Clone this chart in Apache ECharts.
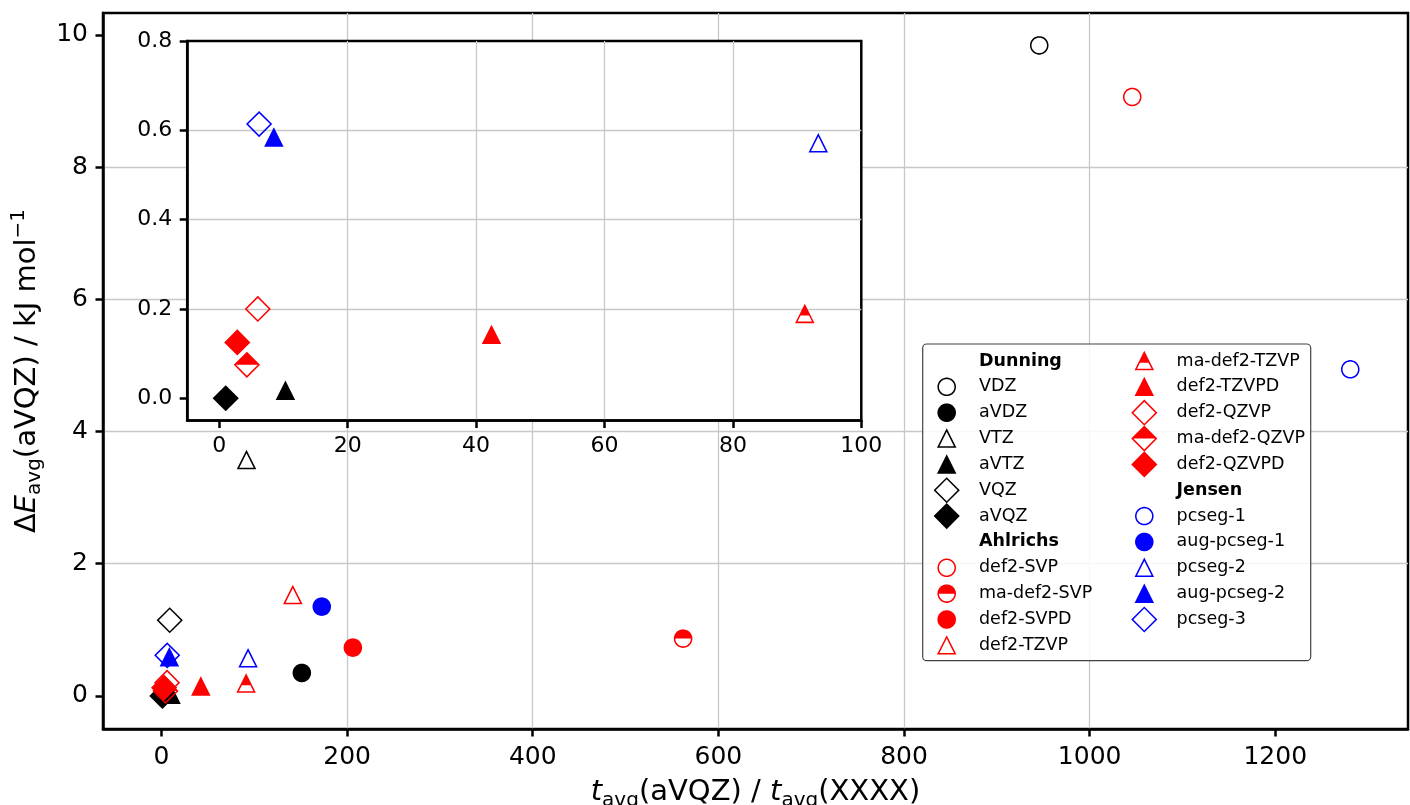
<!DOCTYPE html>
<html>
<head>
<meta charset="utf-8">
<script src="https://cdn.jsdelivr.net/npm/echarts@6/dist/echarts.min.js"></script>
<style>
  html, body { margin: 0; padding: 0; background: #ffffff; }
  #chart { width: 1410px; height: 805px; }
</style>
</head>
<body>
<div id="chart"></div>
<script>
// ---- basis-set families and their members ----
const families = ['Dunning', 'Ahlrichs', 'Jensen'];
const familyColors = ['#000000', '#ff0000', '#0000ff'];

const dunningSets    = ['VDZ', 'aVDZ', 'VTZ', 'aVTZ', 'VQZ', 'aVQZ'];
const dunningSpeedup = [945.7, 151.2, 91.6, 10.3, 8.9, 1.0];
const dunningError   = [9.84, 0.348, 3.57, 0.017, 1.145, 0.0];
const dunningShapes  = ['circle', 'circle', 'triangle', 'triangle', 'diamond', 'diamond'];
const dunningFills   = ['open', 'full', 'open', 'full', 'open', 'full'];

const ahlrichsSets    = ['def2-SVP', 'ma-def2-SVP', 'def2-SVPD', 'def2-TZVP', 'ma-def2-TZVP',
                         'def2-TZVPD', 'def2-QZVP', 'ma-def2-QZVP', 'def2-QZVPD'];
const ahlrichsSpeedup = [1045.9, 562.0, 206.2, 141.5, 91.2, 42.4, 6.0, 4.3, 2.8];
const ahlrichsError   = [9.06, 0.867, 0.731, 1.528, 0.189, 0.142, 0.200, 0.075, 0.125];
const ahlrichsShapes  = ['circle', 'circle', 'circle', 'triangle', 'triangle', 'triangle',
                         'diamond', 'diamond', 'diamond'];
const ahlrichsFills   = ['open', 'top', 'full', 'open', 'top', 'full', 'open', 'top', 'full'];

const jensenSets    = ['pcseg-1', 'aug-pcseg-1', 'pcseg-2', 'aug-pcseg-2', 'pcseg-3'];
const jensenSpeedup = [1280.8, 172.7, 93.3, 8.5, 6.2];
const jensenError   = [4.94, 1.351, 0.571, 0.584, 0.614];
const jensenShapes  = ['circle', 'circle', 'triangle', 'triangle', 'diamond'];
const jensenFills   = ['open', 'full', 'open', 'full', 'open'];

// ---- axis ticks ----
const mainXTicks  = [0, 200, 400, 600, 800, 1000, 1200];
const mainYTicks  = [0, 2, 4, 6, 8, 10];
const insetXTicks = [0, 20, 40, 60, 80, 100];
const insetYTicks = [0, 0.2, 0.4, 0.6, 0.8];

const familyData = [
  { sets: dunningSets,  x: dunningSpeedup,  y: dunningError,  shapes: dunningShapes,  fills: dunningFills },
  { sets: ahlrichsSets, x: ahlrichsSpeedup, y: ahlrichsError, shapes: ahlrichsShapes, fills: ahlrichsFills },
  { sets: jensenSets,   x: jensenSpeedup,   y: jensenError,   shapes: jensenShapes,   fills: jensenFills }
];

// ---- marker outlines built as filled paths (so legend icons match) ----
const FONT = 'DejaVu Sans';
const EDGE = 0.18;      // outline width, in marker units
const FRAME = 1.56;     // half-size of the common symbol box, in marker units
const UNIT = 8.5;       // pixels per marker unit
const SYMBOL_SIZE = 2 * FRAME * UNIT;

function circlePts(r) {
  const pts = [];
  for (let k = 0; k < 72; k++) {
    const a = -Math.PI / 2 + k * 2 * Math.PI / 72;
    pts.push([r * Math.cos(a), r * Math.sin(a)]);
  }
  return pts;
}
function edgeNormal(a, b) {
  const dx = b[0] - a[0], dy = b[1] - a[1], l = Math.hypot(dx, dy);
  return [dy / l, -dx / l];
}
function offsetPoly(poly, d) {
  const n = poly.length, out = [];
  for (let i = 0; i < n; i++) {
    const p0 = poly[(i - 1 + n) % n], p1 = poly[i], p2 = poly[(i + 1) % n];
    const n1 = edgeNormal(p0, p1), n2 = edgeNormal(p1, p2);
    const k = d / (1 + n1[0] * n2[0] + n1[1] * n2[1]);
    out.push([p1[0] + (n1[0] + n2[0]) * k, p1[1] + (n1[1] + n2[1]) * k]);
  }
  return out;
}
function keepBelow(poly, s) {
  const out = [], n = poly.length;
  for (let i = 0; i < n; i++) {
    const a = poly[i], b = poly[(i + 1) % n];
    const ia = a[1] >= s, ib = b[1] >= s;
    if (ia) out.push(a);
    if (ia !== ib) {
      const t = (s - a[1]) / (b[1] - a[1]);
      out.push([a[0] + t * (b[0] - a[0]), s]);
    }
  }
  return out;
}
function ringStr(pts) {
  return 'M' + pts.map(p => p[0].toFixed(4) + ' ' + p[1].toFixed(4)).join(' L') + ' Z';
}
function markerPath(shape, fill) {
  let outer, inner, split;
  if (shape === 'circle') {
    outer = circlePts(1 + EDGE / 2);
    inner = circlePts(1 - EDGE / 2);
    split = 0;
  } else {
    const S = Math.SQRT2;
    const base = shape === 'triangle'
      ? [[0, -1], [1, 1], [-1, 1]]
      : [[0, -S], [S, 0], [0, S], [-S, 0]];
    outer = offsetPoly(base, EDGE / 2);
    inner = offsetPoly(base, -EDGE / 2);
    split = shape === 'triangle' ? 0.2 : 0;
  }
  let d = ringStr(outer);
  if (fill !== 'full') {
    const hole = fill === 'open' ? inner : keepBelow(inner, split);
    d += ' ' + ringStr(hole.slice().reverse());
  }
  const F = FRAME;
  d += ' M' + (-F) + ' ' + (-F) + ' L' + (-F) + ' ' + (-F) + ' Z M' + F + ' ' + F + ' L' + F + ' ' + F + ' Z';
  return 'path://' + d;
}

// ---- series ----
const series = [];
function addSeries(xIdx, yIdx, z) {
  familyData.forEach((fam, fi) => {
    fam.sets.forEach((name, i) => {
      series.push({
        type: 'scatter',
        name: name,
        xAxisIndex: xIdx,
        yAxisIndex: yIdx,
        data: [[fam.x[i], fam.y[i]]],
        symbol: markerPath(fam.shapes[i], fam.fills[i]),
        symbolSize: SYMBOL_SIZE,
        itemStyle: { color: familyColors[fi], opacity: 1 },
        emphasis: { disabled: true },
        silent: true,
        clip: true,
        z: z
      });
    });
  });
}
addSeries(0, 0, 2);
addSeries(1, 1, 6);
// family headings used as legend titles
families.forEach(f => series.push({ type: 'scatter', name: f, data: [], xAxisIndex: 0, yAxisIndex: 0 }));

// ---- legend, two columns ----
const legendEntries = [];
families.forEach((f, fi) => {
  legendEntries.push({ name: f, icon: 'none', textStyle: { fontWeight: 'bold' } });
  familyData[fi].sets.forEach(s => legendEntries.push({ name: s }));
});
const legendCol1 = legendEntries.slice(0, 12);
const legendCol2 = legendEntries.slice(12);

const ROW = 25.85;
const ITEM_W = 54.6;
function legendColumn(data, centerX) {
  return {
    orient: 'vertical',
    left: centerX - ITEM_W / 2,
    top: 361 - SYMBOL_SIZE / 2,
    padding: 0,
    itemWidth: ITEM_W,
    itemHeight: SYMBOL_SIZE,
    itemGap: ROW - SYMBOL_SIZE,
    selectedMode: false,
    textStyle: { fontSize: 17.5, fontFamily: FONT, color: '#000', lineHeight: SYMBOL_SIZE },
    data: data,
    z: 5
  };
}

const gridLine = { show: true, showMinLine: false, showMaxLine: false,
                   lineStyle: { color: '#c8c8c8', width: 1.3 } };

function valueAxis(opts) {
  return Object.assign({
    type: 'value',
    axisLine: { show: true, onZero: false, lineStyle: { color: '#000', width: 2.5 } },
    axisTick: { show: true, inside: false, length: 7.5,
                lineStyle: { color: '#000', width: 2.5 }, customValues: opts.ticks },
    axisLabel: { customValues: opts.ticks, fontSize: opts.fontSize, color: '#000',
                 fontFamily: FONT, margin: opts.margin,
                 formatter: opts.fmt || (v => String(v)) },
    splitLine: gridLine
  }, opts.extra);
}

const titleRich = {
  n: { fontSize: 29, fontFamily: FONT, lineHeight: 36, color: '#000' },
  i: { fontSize: 29, fontFamily: FONT, fontStyle: 'italic', lineHeight: 36, color: '#000' },
  s: { fontSize: 20, fontFamily: FONT, lineHeight: 18, verticalAlign: 'bottom', color: '#000' },
  p: { fontSize: 20, fontFamily: FONT, lineHeight: 16, verticalAlign: 'top', color: '#000' }
};

const option = {
  animation: false,
  backgroundColor: '#ffffff',
  grid: [
    { left: 103, top: 13, right: 2, bottom: 76, show: true, borderColor: '#000',
      borderWidth: 2.5, backgroundColor: 'transparent', z: 0,
      containLabel: false, outerBoundsMode: 'none' },
    { left: 187.2, top: 41, width: 674.1, height: 379.6, show: true, borderColor: '#000',
      borderWidth: 2.5, backgroundColor: '#ffffff', z: 3,
      containLabel: false, outerBoundsMode: 'none' }
  ],
  xAxis: [
    valueAxis({ ticks: mainXTicks, fontSize: 25, margin: 16, extra: {
      gridIndex: 0, position: 'bottom', min: -63, max: 1343, minInterval: 200, maxInterval: 200,
      name: '{i|t}{s|avg}(aVQZ) / {i|t}{s|avg}(XXXX)',
      nameLocation: 'middle', nameGap: 39,
      nameTextStyle: { fontSize: 29, fontFamily: FONT, color: '#000', lineHeight: 36, rich: titleRich }
    } }),
    valueAxis({ ticks: insetXTicks, fontSize: 22, margin: 15, extra: {
      gridIndex: 1, position: 'bottom', min: -5, max: 100, minInterval: 20, maxInterval: 20, z: 4
    } })
  ],
  yAxis: [
    valueAxis({ ticks: mainYTicks, fontSize: 25, margin: 15, extra: {
      gridIndex: 0, position: 'left', min: -0.5, max: 10.33, minInterval: 2, maxInterval: 2,
      name: '{n|Δ}{i|E}{s|avg}(aVQZ) / kJ mol{p|−1}',
      nameLocation: 'middle', nameGap: 49,
      nameTextStyle: { fontSize: 29, fontFamily: FONT, color: '#000', lineHeight: 36, rich: titleRich }
    } }),
    valueAxis({ ticks: insetYTicks, fontSize: 22, margin: 15, fmt: v => v.toFixed(1), extra: {
      gridIndex: 1, position: 'left', min: -0.05, max: 0.8, minInterval: 0.2, maxInterval: 0.2, z: 4
    } })
  ],
  legend: [legendColumn(legendCol1, 946.7), legendColumn(legendCol2, 1144.3)],
  graphic: [{
    type: 'rect', z: 4, silent: true,
    shape: { x: 922.7, y: 344, width: 388, height: 316.7, r: 4 },
    style: { fill: 'rgba(255,255,255,0.85)', stroke: '#444', lineWidth: 1.2 }
  }],
  series: series
};

const chart = echarts.init(document.getElementById('chart'), null, { renderer: 'canvas' });
chart.setOption(option);
</script>
</body>
</html>
